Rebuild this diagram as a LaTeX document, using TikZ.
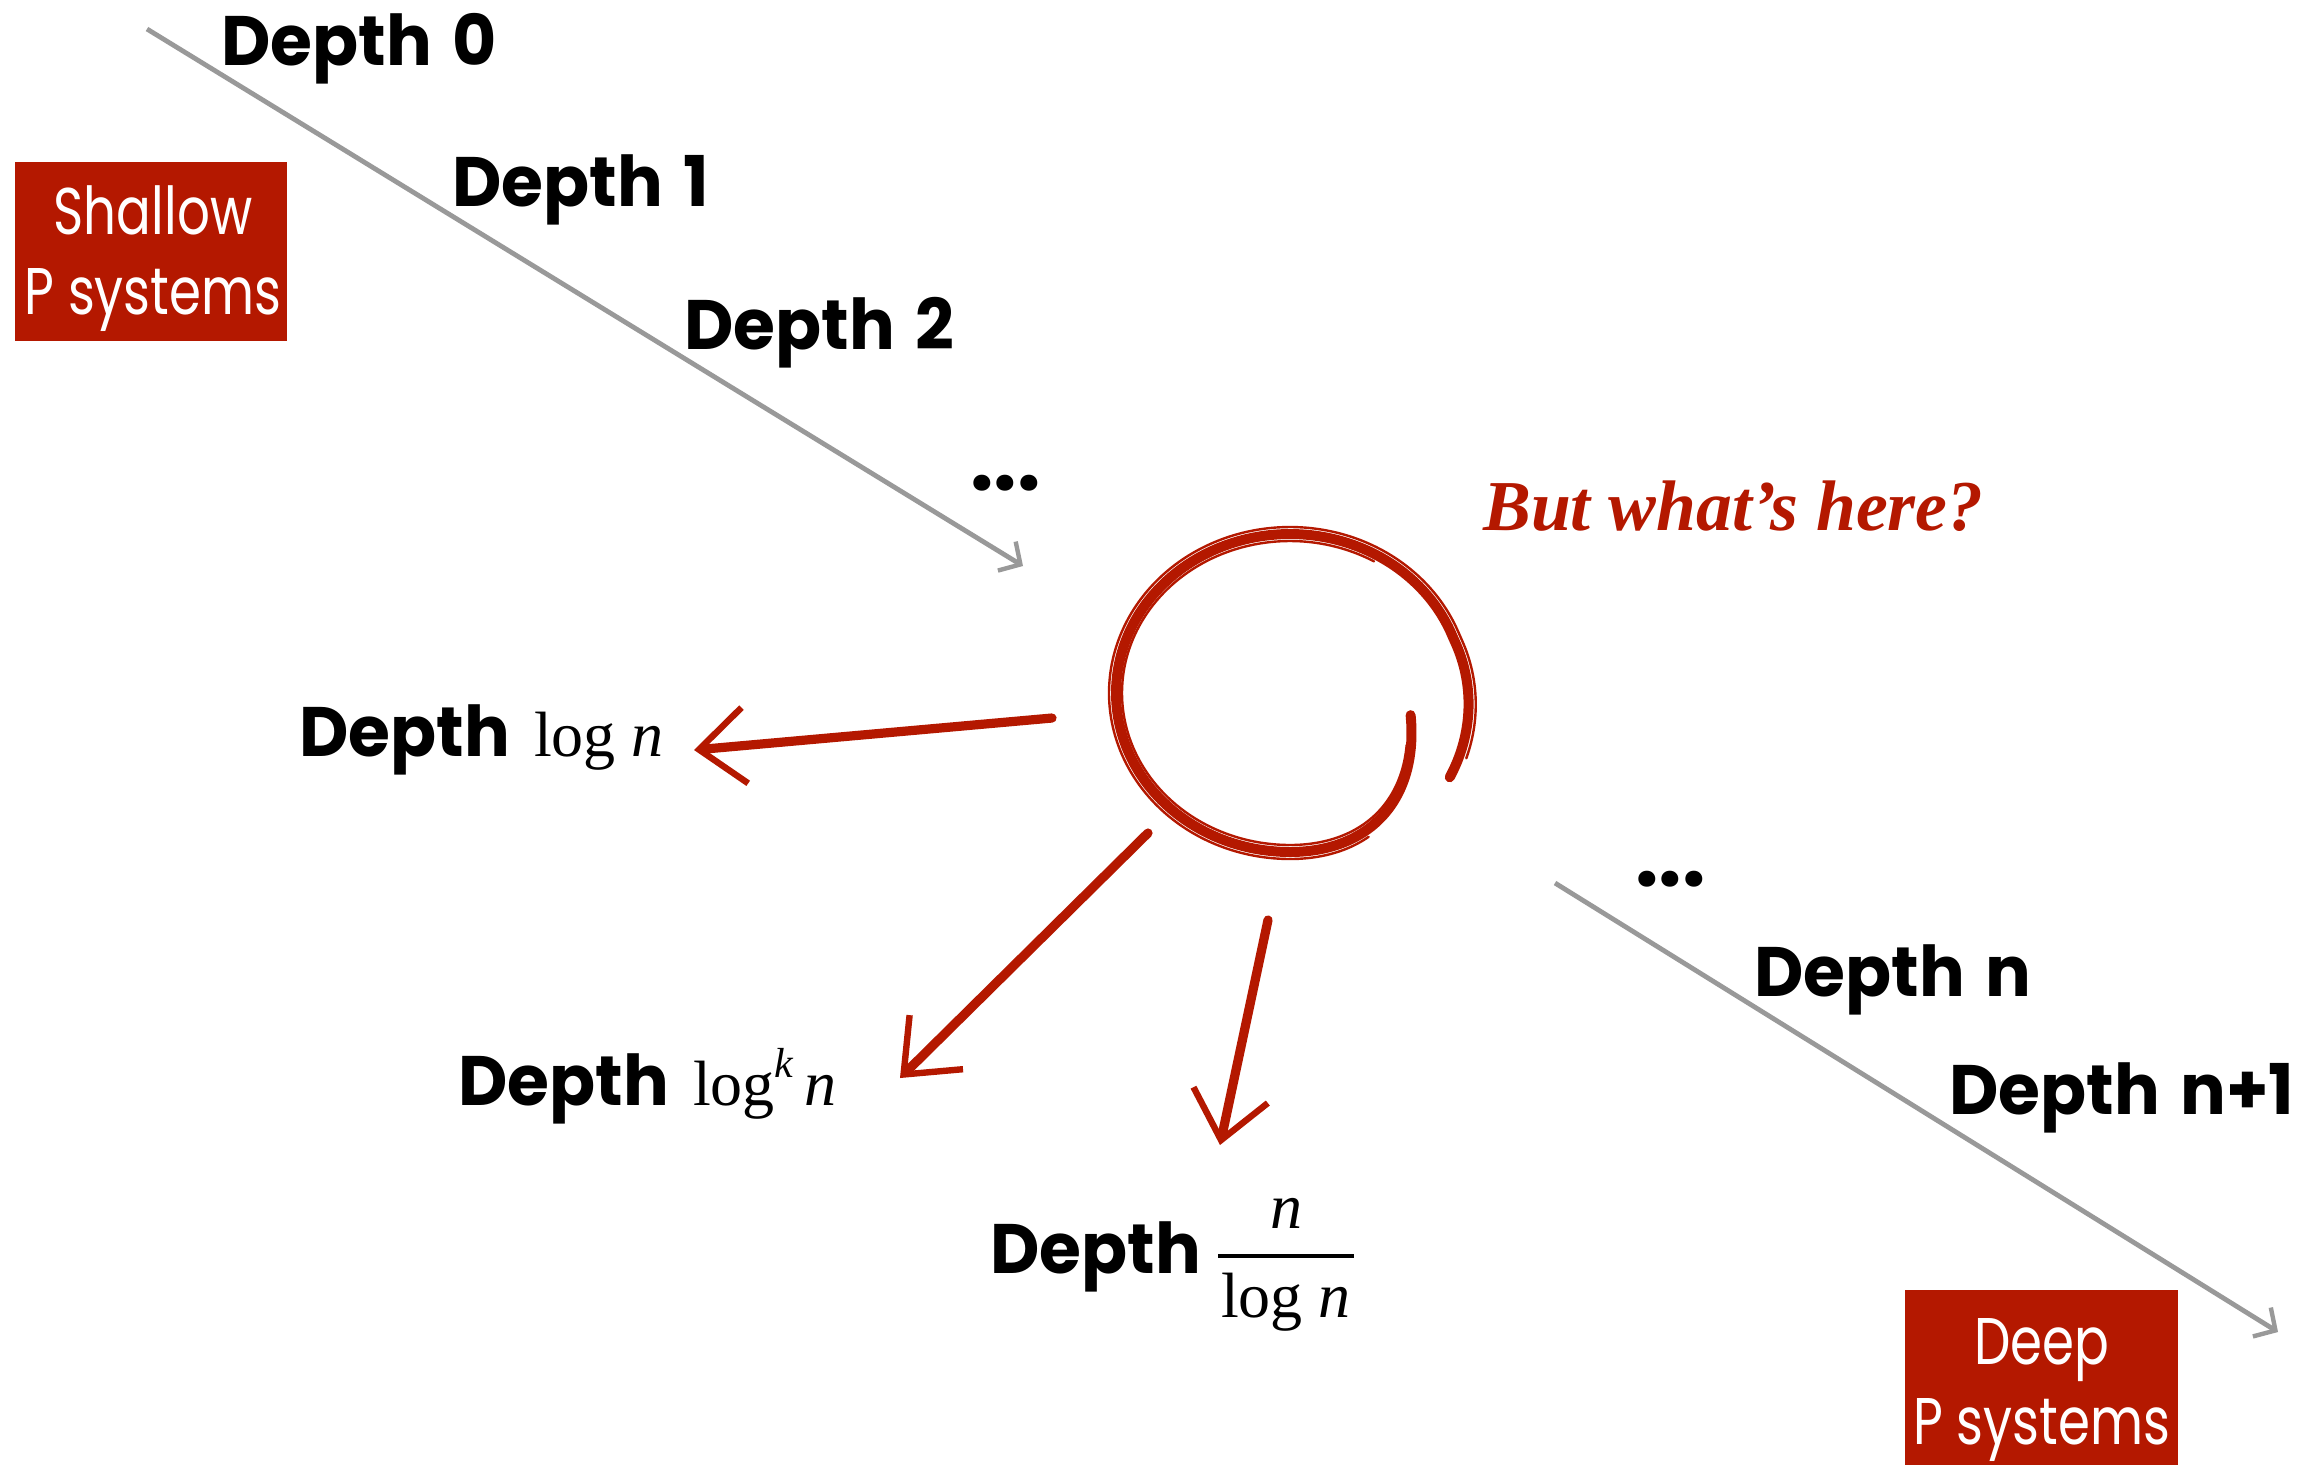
\documentclass[tikz,border=0pt]{standalone}
\usepackage{fontspec}
\usepackage{graphicx}
\usetikzlibrary{arrows.meta}
\setmainfont{Poppins}
\newfontfamily\lblfont{Poppins}[FakeStretch=0.97]
\newfontfamily\boxfont{Poppins}[FakeStretch=0.78]
\newfontfamily\serfont{Liberation Serif}
\newfontfamily\handfont{Liberation Serif}
\definecolor{sketchred}{RGB}{180,24,0}
\definecolor{linegray}{RGB}{153,153,153}
\tikzset{
  depthlbl/.style={anchor=base west, inner sep=0pt, font=\lblfont\bfseries\fontsize{35}{40}\selectfont},
  dotlbl/.style={anchor=base west, inner sep=0pt, font=\lblfont\bfseries\fontsize{43}{40}\selectfont},
  mathlbl/.style={anchor=base, inner sep=0pt, font=\serfont\fontsize{32}{36}\selectfont},
  redbox/.style={fill=sketchred, inner sep=0pt},
  boxtext/.style={text=white, inner sep=0pt, align=center, font=\boxfont\fontsize{33}{40}\selectfont},
  grayarrow/.style={draw=linegray, line width=2.4pt, -{Straight Barb[length=8pt,width=17pt,line width=2.2pt]}},
  redarrow/.style={draw=sketchred, line width=4.6pt, line cap=round, -{Straight Barb[length=23pt,width=38pt,line width=3.2pt]}},
  sketchring/.style={draw=sketchred, line width=5pt, line cap=round},
  sketchhair/.style={draw=sketchred, line width=1.2pt, line cap=round},
}
\newcommand{\mathpart}[1]{{\serfont\mdseries\upshape\fontsize{32}{36}\selectfont #1}}
\begin{document}
\begin{tikzpicture}[x=0.5pt, y=-0.5pt,
  declare function={
    fs(\t)=(\t<20)*(1+0.06*(20-\t)/50) + (\t>=20)*1;
    fx(\t)=fs(\t)*((\t<260)*1 + (\t>=260)*(1-0.3*(\t-260)/92));
  }]
\useasboundingbox (0,0) rectangle (2307,1464);
\fill[white] (0,0) rectangle (2307,1464);

% boxes
\node[redbox, minimum width=136pt, minimum height=89.5pt] (shallow) at (151,251.5) {};
\node[boxtext] (shallowtxt) at (153,259) {Shallow\\P systems};
\node[redbox, minimum width=136.5pt, minimum height=90pt] (deep) at (2041.5,1380) {};
\node[boxtext] (deeptxt) at (2041.5,1390) {Deep\\P systems};

% gray arrows
\coordinate (g1s) at (147,29);
\coordinate (g1e) at (1023,566);
\draw[grayarrow] (g1s) -- (g1e);
\coordinate (g2s) at (1555,883);
\coordinate (g2e) at (2278,1332);
\draw[grayarrow] (g2s) -- (g2e);

% depth labels
\node[depthlbl] (d0) at (221,65) {Depth\hspace{3pt} 0};
\node[depthlbl] (d1) at (452,206) {Depth\hspace{3pt} 1};
\node[depthlbl] (d2) at (684,349) {Depth\hspace{3pt} 2};
\node[dotlbl] (dots1) at (970,490) {...};
\node[dotlbl] (dots2) at (1635,886) {...};
\node[depthlbl] (dn) at (1754,996) {Depth\hspace{3pt} n};
\node[depthlbl] (dn1) at (1949,1114) {Depth\hspace{3pt} n+1};

\node[depthlbl] (dlog) at (299,756) {Depth\hspace{12pt}\mathpart{log \textit{n}}};
\node[depthlbl] (dlogk) at (458,1105) {Depth\hspace{12pt}\mathpart{log\raisebox{14pt}{\fontsize{21}{21}\selectfont\textit{k}}\hspace{5pt}\textit{n}}};
\node[depthlbl] (dfrac) at (990,1273) {Depth};
\node[mathlbl] (fnum) at (1286,1228) {\textit{n}};
\node[mathlbl] (fden) at (1286,1317) {log \textit{n}};
\draw[line width=2.2pt] (1218,1256) -- (1354,1256);

% question
\node[anchor=base west, inner sep=0pt, text=sketchred] (quest) at (1483,530)
  {\resizebox{250pt}{!}{\handfont\bfseries\itshape But what’s here?}};

% sketched ring
\coordinate (ctr) at (1290,693);
\draw[sketchring, shift={(ctr)}] plot[domain=-30:352, samples=160, smooth]
  ({174*fx(\x)*cos(\x)}, {-159*fs(\x)*sin(\x)});
\draw[sketchhair, shift={(ctr)}] plot[domain=-22:300, samples=120, smooth]
  ({181*fx(\x)*cos(\x)}, {-166*fs(\x)*sin(\x)});
\draw[sketchhair, shift={(ctr)}] plot[domain=60:340, samples=120, smooth]
  ({168*fx(\x)*cos(\x)}, {-152*fs(\x)*sin(\x)});

% red arrows
\coordinate (a1s) at (1052,718);
\coordinate (a1e) at (694,750);
\draw[redarrow] (a1s) -- (a1e);
\coordinate (a2s) at (1148,833);
\coordinate (a2e) at (900,1078);
\draw[redarrow] (a2s) -- (a2e);
\coordinate (a3s) at (1268,920);
\coordinate (a3e) at (1220,1145);
\draw[redarrow] (a3s) -- (a3e);
\end{tikzpicture}
\end{document}
